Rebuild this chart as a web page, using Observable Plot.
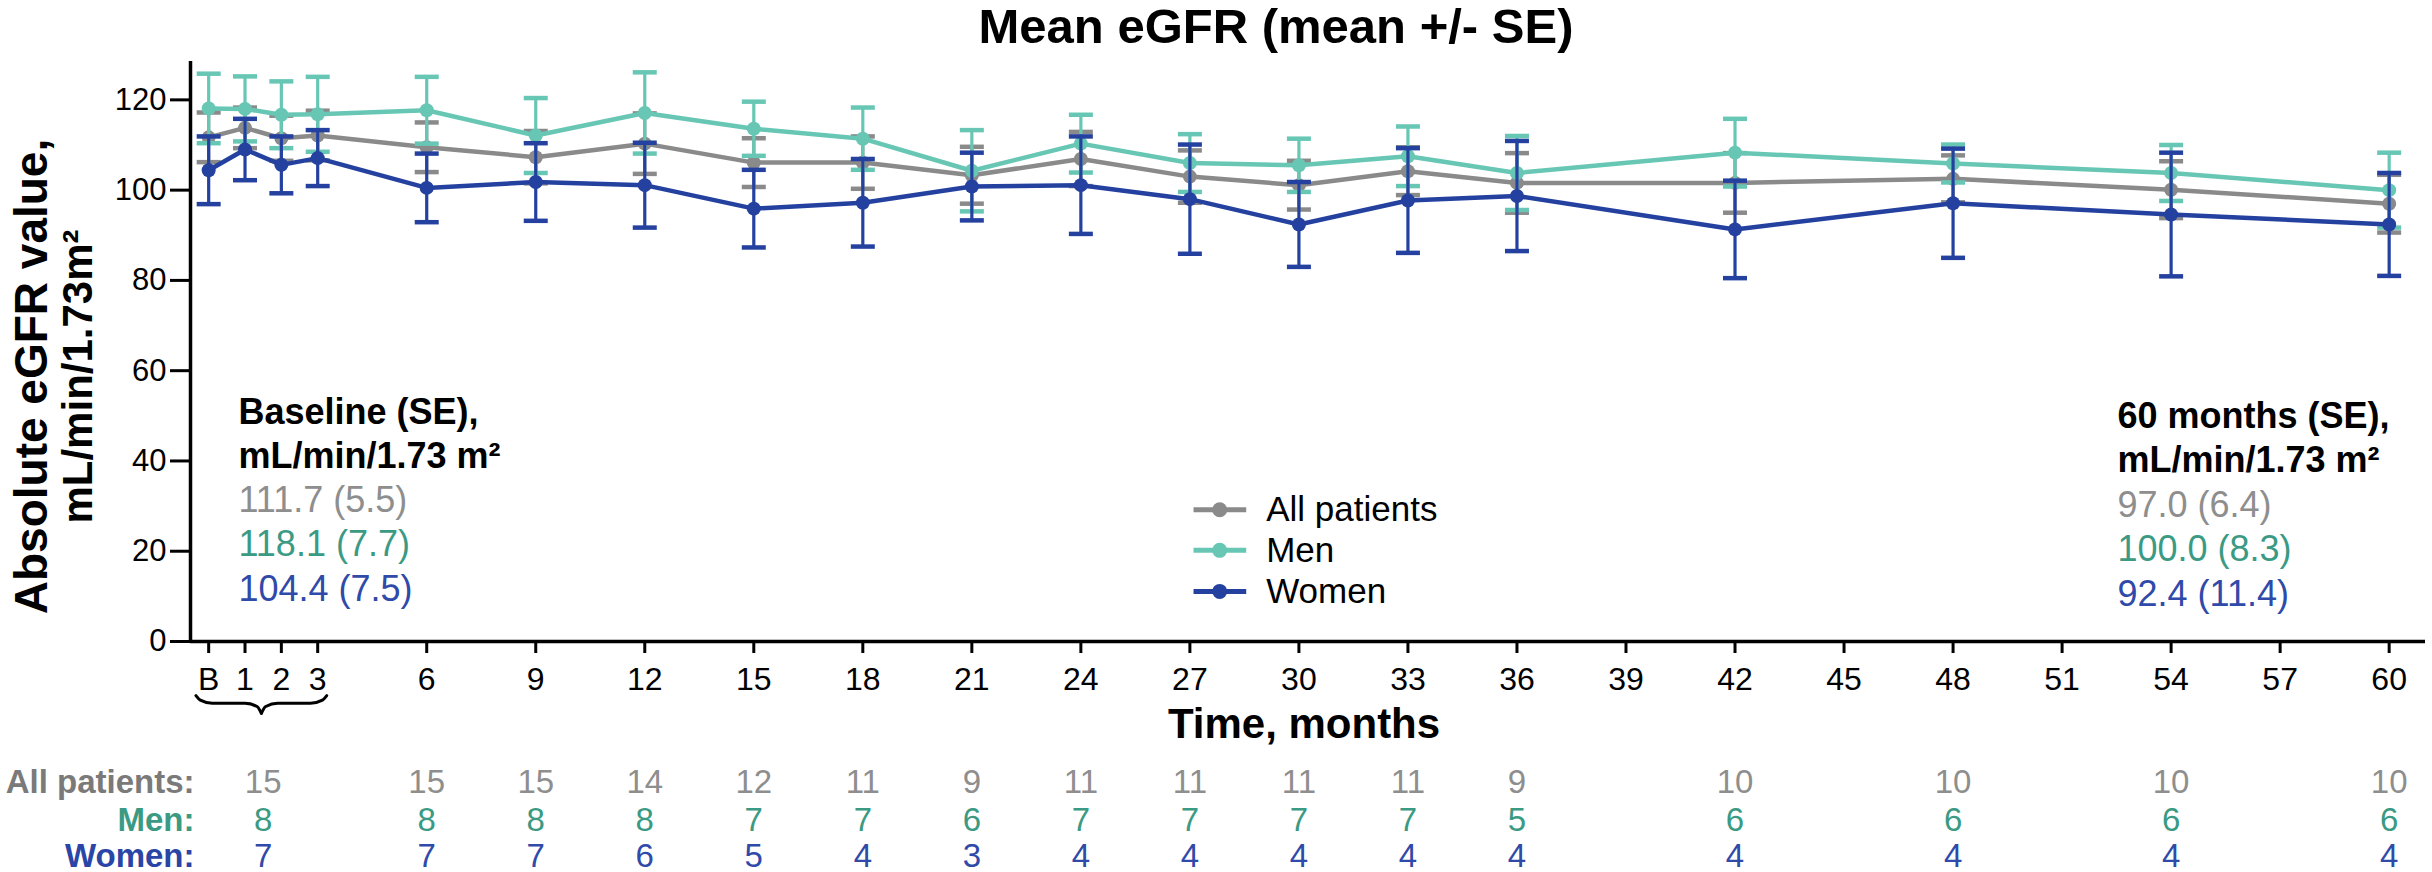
<!DOCTYPE html>
<html>
<head>
<meta charset="utf-8">
<script src="https://cdn.jsdelivr.net/npm/d3@7"></script>
<script src="https://cdn.jsdelivr.net/npm/@observablehq/plot@0.6"></script>
<style>
  html, body { margin: 0; padding: 0; background: #fff; }
  #chart svg { display: block; }
</style>
</head>
<body>
<div id="chart"></div>
<script>
// ---------------- data ----------------
const months = [0, 1, 2, 3, 6, 9, 12, 15, 18, 21, 24, 27, 30, 33, 36, 42, 48, 54, 60];

const allMean   = [111.7, 113.8, 111.5, 112.1, 109.5, 107.3, 110.3, 106.1, 106.1, 103.3, 106.9, 103.0, 101.1, 104.2, 101.6, 101.6, 102.5, 100.1, 97.0];
const allSE     = [5.5, 4.5, 5.0, 5.5, 5.5, 5.8, 6.7, 5.4, 5.8, 6.3, 6.0, 5.8, 5.4, 5.3, 6.6, 6.6, 5.2, 6.3, 6.4];

const menMean   = [118.1, 118.0, 116.7, 116.8, 117.7, 112.1, 117.1, 113.6, 111.4, 104.3, 110.3, 106.0, 105.5, 107.5, 103.8, 108.3, 105.9, 103.8, 100.0];
const menSE     = [7.7, 7.2, 7.4, 8.3, 7.4, 8.3, 9.0, 6.0, 6.9, 9.0, 6.4, 6.4, 5.9, 6.6, 8.2, 7.5, 4.2, 6.2, 8.3];

const womenMean = [104.4, 109.0, 105.6, 107.1, 100.5, 101.8, 101.1, 95.9, 97.2, 100.8, 101.1, 98.0, 92.4, 97.7, 98.7, 91.3, 97.1, 94.6, 92.4];
const womenSE   = [7.5, 6.8, 6.3, 6.2, 7.6, 8.6, 9.4, 8.6, 9.7, 7.5, 10.8, 12.1, 9.4, 11.6, 12.2, 10.8, 12.1, 13.7, 11.4];

const xTicks = [0, 1, 2, 3, 6, 9, 12, 15, 18, 21, 24, 27, 30, 33, 36, 39, 42, 45, 48, 51, 54, 57, 60];
const yTicks = [0, 20, 40, 60, 80, 100, 120];

// numbers at risk (first column = B-3 group)
const countMonths = [1.5, 6, 9, 12, 15, 18, 21, 24, 27, 30, 33, 36, 42, 48, 54, 60];
const countAll    = [15, 15, 15, 14, 12, 11, 9, 11, 11, 11, 11, 9, 10, 10, 10, 10];
const countMen    = [8, 8, 8, 8, 7, 7, 6, 7, 7, 7, 7, 5, 6, 6, 6, 6];
const countWomen  = [7, 7, 7, 6, 5, 4, 3, 4, 4, 4, 4, 4, 4, 4, 4, 4];

const seriesNames = ["All patients", "Men", "Women"];

// ---------------- styles ----------------
const FONT = "'Liberation Sans', Arial, Helvetica, sans-serif";
const lineColors = ["#8a8a8a", "#67c7b4", "#2441a0"];
const textColors = ["#8e8e8e", "#3b9a83", "#2f4aa9"];
const rowLabelColors = ["#7a7a7a", "#3b9a83", "#2a45a5"];

const series = [
  {name: seriesNames[0], mean: allMean, se: allSE},
  {name: seriesNames[1], mean: menMean, se: menSE},
  {name: seriesNames[2], mean: womenMean, se: womenSE}
].map((s, k) => ({
  ...s,
  color: lineColors[k],
  textColor: textColors[k],
  rows: months.map((m, i) => ({month: m, mean: s.mean[i], se: s.se[i]}))
}));

const counts = [countAll, countMen, countWomen].map((c, k) =>
  countMonths.map((m, i) => ({month: m, n: c[i]})));

// error-bar cap symbol (horizontal stroke)
const capSymbol = {
  draw(context, size) {
    const r = Math.sqrt(size / Math.PI);
    context.moveTo(-r, 0);
    context.lineTo(r, 0);
  }
};

// ---------------- layout constants ----------------
const braceStart = -0.35, braceEnd = 3.25, braceMid = 1.45;
const braceTop = -12.0, braceBar = -13.7, braceTip = -15.9;
const braceLeft = [
  [braceStart, braceTop], [braceStart + 0.12, braceTop - 1.0], [braceStart + 0.45, braceBar],
  [braceMid - 0.45, braceBar], [braceMid - 0.12, braceBar - 0.7], [braceMid, braceTip]
];
const braceRight = braceLeft.map(([x, y]) => [2 * braceMid - x, y]).reverse();
const bracePts = [
  ...braceLeft.map(([x, y]) => ({x, y, side: "L"})),
  ...braceRight.map(([x, y]) => ({x, y, side: "R"}))
];

const legendX1 = 27.1, legendX2 = 28.55, legendDot = 27.82, legendText = 29.1;
const legendY = [29.2, 20.2, 11.1];

const rowDy = [140.5, 179, 215];

const leftNote = [
  {text: "Baseline (SE),", color: "#000", weight: "bold"},
  {text: "mL/min/1.73 m²", color: "#000", weight: "bold"},
  ...series.map(s => ({text: `${s.mean[0].toFixed(1)} (${s.se[0].toFixed(1)})`, color: s.textColor, weight: "normal"}))
];
const last = months.length - 1;
const rightNote = [
  {text: "60 months (SE),", color: "#000", weight: "bold"},
  {text: "mL/min/1.73 m²", color: "#000", weight: "bold"},
  ...series.map(s => ({text: `${s.mean[last].toFixed(1)} (${s.se[last].toFixed(1)})`, color: s.textColor, weight: "normal"}))
];

// ---------------- marks ----------------
const marks = [];

// axis lines
marks.push(Plot.ruleX([-0.5], {stroke: "#000", strokeWidth: 3.5}));
marks.push(Plot.ruleY([0], {stroke: "#000", strokeWidth: 3.5}));

marks.push(Plot.axisY({
  ticks: yTicks, tickSize: 20, tickPadding: 4, fontSize: 31, strokeWidth: 3,
  label: null, fontFamily: FONT
}));
marks.push(Plot.axisX({
  ticks: xTicks, tickSize: 12, tickPadding: 14, fontSize: 32, strokeWidth: 3,
  tickFormat: d => d === 0 ? "B" : String(d), label: null, fontFamily: FONT
}));

// series
for (const s of series) {
  marks.push(Plot.ruleX(s.rows, {x: "month", y1: d => d.mean - d.se, y2: d => d.mean + d.se, stroke: s.color, strokeWidth: 3.2}));
  marks.push(Plot.dot(s.rows, {x: "month", y: d => d.mean + d.se, symbol: capSymbol, r: 12, fill: "none", stroke: s.color, strokeWidth: 4.5}));
  marks.push(Plot.dot(s.rows, {x: "month", y: d => d.mean - d.se, symbol: capSymbol, r: 12, fill: "none", stroke: s.color, strokeWidth: 4.5}));
  marks.push(Plot.line(s.rows, {x: "month", y: "mean", stroke: s.color, strokeWidth: 4.5}));
  marks.push(Plot.dot(s.rows, {x: "month", y: "mean", r: 7, fill: s.color, stroke: "none"}));
}

// brace under B-3
marks.push(Plot.line(bracePts, {x: "x", y: "y", z: "side", curve: "monotone-x", stroke: "#000", strokeWidth: 3}));

// legend
series.forEach((s, k) => {
  marks.push(Plot.link([s], {x1: () => legendX1, x2: () => legendX2, y1: () => legendY[k], y2: () => legendY[k], stroke: s.color, strokeWidth: 5}));
  marks.push(Plot.dot([s], {x: () => legendDot, y: () => legendY[k], r: 7.5, fill: s.color, stroke: "none"}));
  marks.push(Plot.text([s.name], {x: () => legendText, y: () => legendY[k], text: d => d, textAnchor: "start", lineAnchor: "middle", fontSize: 35, fill: "#000", fontFamily: FONT}));
});

// annotations
leftNote.forEach((t, i) => {
  marks.push(Plot.text([t.text], {text: d => d, frameAnchor: "top-left", dx: 48, dy: 362 + i * 44.3, textAnchor: "start", lineAnchor: "bottom", fontSize: 36, fontWeight: t.weight, fill: t.color, fontFamily: FONT}));
});
rightNote.forEach((t, i) => {
  marks.push(Plot.text([t.text], {text: d => d, frameAnchor: "top-left", dx: 1927, dy: 366 + i * 44.5, textAnchor: "start", lineAnchor: "bottom", fontSize: 36, fontWeight: t.weight, fill: t.color, fontFamily: FONT}));
});

// title
marks.push(Plot.text(["Mean eGFR (mean +/- SE)"], {text: d => d, frameAnchor: "top", dx: -32, dy: -19, lineAnchor: "bottom", fontSize: 49, fontWeight: "bold", fill: "#000", fontFamily: FONT}));

// x label
marks.push(Plot.text(["Time, months"], {text: d => d, frameAnchor: "bottom", dx: -4, dy: 96, lineAnchor: "bottom", fontSize: 42, fontWeight: "bold", fill: "#000", fontFamily: FONT}));

// y label (two lines)
marks.push(Plot.text(["Absolute eGFR value,"], {text: d => d, frameAnchor: "left", dx: -144, dy: 25, rotate: -90, textAnchor: "middle", lineAnchor: "bottom", fontSize: 46, fontWeight: "bold", fill: "#000", fontFamily: FONT}));
marks.push(Plot.text(["mL/min/1.73m²"], {text: d => d, frameAnchor: "left", dx: -99, dy: 25, rotate: -90, textAnchor: "middle", lineAnchor: "bottom", fontSize: 42, fontWeight: "bold", fill: "#000", fontFamily: FONT}));

// numbers at risk
const rowLabels = ["All patients:", "Men:", "Women:"];
rowLabels.forEach((lab, k) => {
  marks.push(Plot.text([lab], {text: d => d, frameAnchor: "bottom-left", dx: 4, dy: rowDy[k], textAnchor: "end", lineAnchor: "middle", fontSize: 33, fontWeight: "bold", fill: rowLabelColors[k], fontFamily: FONT}));
  marks.push(Plot.text(counts[k], {x: "month", text: d => String(d.n), frameAnchor: "bottom", dy: rowDy[k], textAnchor: "middle", lineAnchor: "middle", fontSize: 33, fill: textColors[k], fontFamily: FONT}));
});

const chart = Plot.plot({
  width: 2432,
  height: 872,
  marginLeft: 190,
  marginRight: 7,
  marginTop: 61,
  marginBottom: 231,
  x: {domain: [-0.5, 61]},
  y: {domain: [0, 128.5]},
  style: {fontFamily: FONT, background: "#fff", overflow: "visible", color: "#000"},
  marks
});
document.getElementById("chart").append(chart);
</script>
</body>
</html>
